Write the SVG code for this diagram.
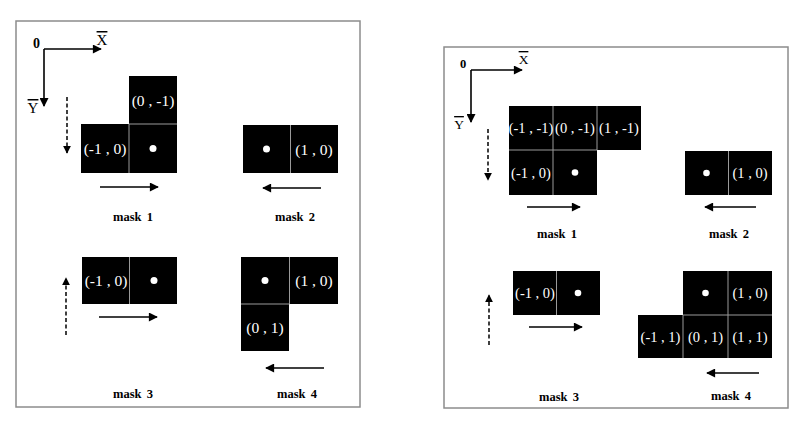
<svg xmlns="http://www.w3.org/2000/svg" width="809" height="425" viewBox="0 0 809 425">
<style>
.frame{fill:#fff;stroke:#8c8c8c;stroke-width:1.5}
.cell{fill:#000}
.sep{stroke:#9a9a9a;stroke-width:1;fill:none}
.lbl{font-family:"Liberation Serif","DejaVu Serif",serif;fill:#fff;text-anchor:middle;dominant-baseline:central}
.l1{font-size:15.5px}
.l2{font-size:14.5px}
.dot{fill:#fff}
.mask{font-family:"Liberation Serif","DejaVu Serif",serif;font-weight:bold;font-size:12.5px;text-anchor:middle;word-spacing:2px;fill:#000}
.ax{font-family:"Liberation Serif","DejaVu Serif",serif;font-weight:bold;fill:#000;text-anchor:middle}
.axl{font-family:"Liberation Serif","DejaVu Serif",serif;fill:#000;text-anchor:middle;text-decoration:overline}
.arr{stroke:#000;stroke-width:1.6;fill:none}
.dash{stroke:#000;stroke-width:1.5;fill:none;stroke-dasharray:4,2.5}
</style>
<defs>
<marker id="ah" viewBox="0 0 10 10" refX="9" refY="5" markerWidth="10" markerHeight="9" markerUnits="userSpaceOnUse" orient="auto">
<path d="M0,0 L10,5 L0,10 z" fill="#000"/>
</marker>
<marker id="ahs" viewBox="0 0 10 10" refX="9" refY="5" markerWidth="8" markerHeight="8" markerUnits="userSpaceOnUse" orient="auto">
<path d="M0,0 L10,5 L0,10 z" fill="#000"/>
</marker>
</defs>

<!-- LEFT PANEL -->
<g id="left-panel">
<rect class="frame" x="16" y="21" width="344" height="386"/>
<g id="left-axes">
<text class="ax" x="36.5" y="48" font-size="14">0</text>
<text class="axl" x="102" y="45" font-size="15">X</text>
<text class="axl" x="33" y="113" font-size="15">Y</text>
</g>
<g id="left-mask1">
<rect class="cell" x="129" y="76" width="48" height="48"/>
<rect class="cell" x="81" y="124" width="96" height="49"/>
<path class="sep" d="M129,124 V173 M129,124 H177"/>
<text class="lbl l1" x="153" y="100">(0 , -1)</text>
<text class="lbl l1" x="105" y="148.5">(-1 , 0)</text>
<circle class="dot" cx="153" cy="148.5" r="3.5"/>
<text class="mask" x="133" y="221">mask 1</text>
</g>
<g id="left-mask2">
<rect class="cell" x="243" y="125" width="95" height="48"/>
<path class="sep" d="M290.5,125 V173"/>
<circle class="dot" cx="266.5" cy="149" r="3.5"/>
<text class="lbl l1" x="314" y="149">(1 , 0)</text>
<text class="mask" x="295" y="221">mask 2</text>
</g>
<g id="left-mask3">
<rect class="cell" x="82" y="257" width="95" height="47"/>
<path class="sep" d="M129.5,257 V304"/>
<text class="lbl l1" x="106" y="280.5">(-1 , 0)</text>
<circle class="dot" cx="154" cy="280.5" r="3.5"/>
<text class="mask" x="133" y="398">mask 3</text>
</g>
<g id="left-mask4">
<rect class="cell" x="241" y="257" width="97" height="47"/>
<rect class="cell" x="241" y="304" width="48" height="47"/>
<path class="sep" d="M289.5,257 V304 M241,304 H289.5"/>
<circle class="dot" cx="265" cy="280.5" r="3.5"/>
<text class="lbl l1" x="314" y="280.5">(1 , 0)</text>
<text class="lbl l1" x="265" y="327.5">(0 , 1)</text>
<text class="mask" x="297" y="398">mask 4</text>
</g>
</g>

<!-- RIGHT PANEL -->
<g id="right-panel">
<rect class="frame" x="444" y="47" width="344" height="361"/>
<g id="right-axes">
<text class="ax" x="463" y="68" font-size="12.5">0</text>
<text class="axl" x="523.5" y="64" font-size="13.5">X</text>
<text class="axl" x="459" y="129" font-size="13.5">Y</text>
</g>
<g id="right-mask1">
<rect class="cell" x="509" y="106" width="132" height="44"/>
<rect class="cell" x="509" y="150" width="88" height="45"/>
<path class="sep" d="M553,106 V195 M597,106 V150 M509,150 H597"/>
<text class="lbl l2" x="531" y="128">(-1 , -1)</text>
<text class="lbl l2" x="575" y="128">(0 , -1)</text>
<text class="lbl l2" x="619" y="128">(1 , -1)</text>
<text class="lbl l2" x="531" y="172.5">(-1 , 0)</text>
<circle class="dot" cx="575" cy="172.5" r="3.3"/>
<text class="mask" x="557" y="238" font-size="12">mask 1</text>
</g>
<g id="right-mask2">
<rect class="cell" x="685" y="151" width="87" height="44"/>
<path class="sep" d="M728.5,151 V195"/>
<circle class="dot" cx="706.5" cy="173" r="3.3"/>
<text class="lbl l2" x="750" y="173">(1 , 0)</text>
<text class="mask" x="729" y="238" font-size="12">mask 2</text>
</g>
<g id="right-mask3">
<rect class="cell" x="513" y="271" width="87" height="44"/>
<path class="sep" d="M556.5,271 V315"/>
<text class="lbl l2" x="535" y="293">(-1 , 0)</text>
<circle class="dot" cx="578" cy="293" r="3.3"/>
<text class="mask" x="559" y="401" font-size="12">mask 3</text>
</g>
<g id="right-mask4">
<rect class="cell" x="683" y="271" width="89" height="44"/>
<rect class="cell" x="638" y="315" width="134" height="43"/>
<path class="sep" d="M728,271 V358 M683,315 V358 M683,315 H772"/>
<circle class="dot" cx="705.5" cy="293" r="3.3"/>
<text class="lbl l2" x="750" y="293">(1 , 0)</text>
<text class="lbl l2" x="660.5" y="336.5">(-1 , 1)</text>
<text class="lbl l2" x="705.5" y="336.5">(0 , 1)</text>
<text class="lbl l2" x="750" y="336.5">(1 , 1)</text>
<text class="mask" x="731" y="400" font-size="12">mask 4</text>
</g>
</g>

<!-- CONNECTORS -->
<g id="connectors">
<path class="arr" d="M44,49 H101" marker-end="url(#ah)"/>
<path class="arr" d="M44,49 V106" marker-end="url(#ah)"/>
<path class="dash" d="M67,97 V153" marker-end="url(#ahs)"/>
<path class="arr" d="M100,187 H158" marker-end="url(#ah)"/>
<path class="arr" d="M321,188 H263" marker-end="url(#ah)"/>
<path class="dash" d="M66,335 V278" marker-end="url(#ahs)"/>
<path class="arr" d="M99,317 H157" marker-end="url(#ah)"/>
<path class="arr" d="M324,368 H266" marker-end="url(#ah)"/>

<path class="arr" d="M471,70 H522" marker-end="url(#ah)"/>
<path class="arr" d="M471,70 V122" marker-end="url(#ah)"/>
<path class="dash" d="M488,129 V180" marker-end="url(#ahs)"/>
<path class="arr" d="M527,207 H580" marker-end="url(#ah)"/>
<path class="arr" d="M756,207 H705" marker-end="url(#ah)"/>
<path class="dash" d="M489,345 V295" marker-end="url(#ahs)"/>
<path class="arr" d="M529,327 H582" marker-end="url(#ah)"/>
<path class="arr" d="M759,373 H707" marker-end="url(#ah)"/>
</g>
</svg>
